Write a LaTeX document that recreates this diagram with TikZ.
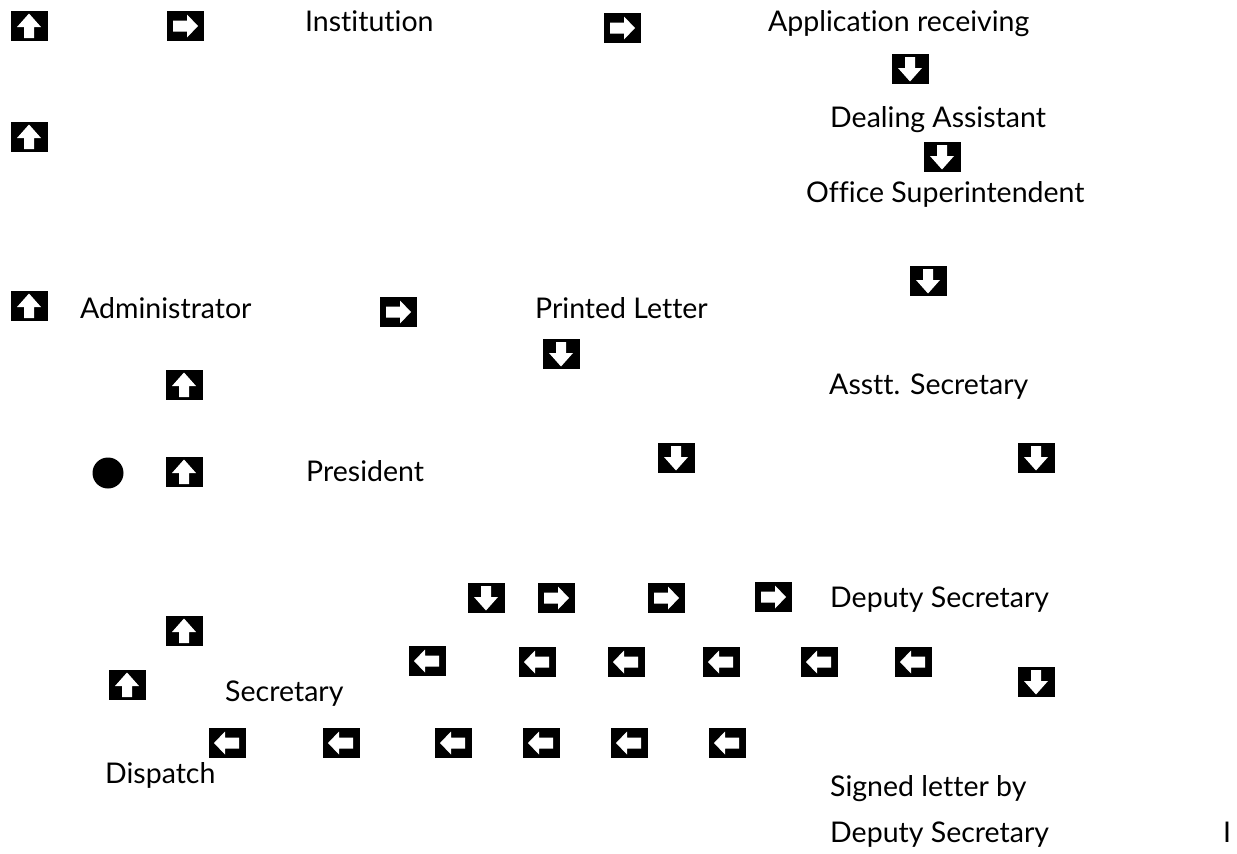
\documentclass[tikz,border=0pt]{standalone}
\usepackage{fontspec}
\setmainfont{Lato}[Ligatures={NoCommon}]
\begin{document}
\begin{tikzpicture}[x=1pt,y=-1pt,
  icon/.style={rectangle,fill=black,inner sep=0pt,minimum width=37pt,minimum height=30pt},
  righticon/.style={icon,path picture={\fill[white,shift={(path picture bounding box.center)}]
     (-12,-5.5) -- (2,-5.5) -- (2,-11.5) -- (13,0) -- (2,11.5) -- (2,5.5) -- (-12,5.5) -- cycle;}},
  lefticon/.style={icon,path picture={\fill[white,shift={(path picture bounding box.center)}]
     (12,-5.5) -- (-2,-5.5) -- (-2,-11.5) -- (-13,0) -- (-2,11.5) -- (-2,5.5) -- (12,5.5) -- cycle;}},
  upicon/.style={icon,path picture={\fill[white,shift={(path picture bounding box.center)}]
     (-5,12) -- (-5,1) -- (-12,1) -- (0,-12.5) -- (12,1) -- (5,1) -- (5,12) -- cycle;}},
  downicon/.style={icon,path picture={\fill[white,shift={(path picture bounding box.center)}]
     (-5,-12) -- (-5,-1) -- (-12,-1) -- (0,12.5) -- (12,-1) -- (5,-1) -- (5,-12) -- cycle;}},
  lbl/.style={anchor=base west,inner sep=0pt,font=\fontsize{28.5}{32}\selectfont},
  dot/.style={circle,fill=black,inner sep=0pt,minimum size=31pt}
]
\fill[white] (0,0) rectangle (1237,854);
\useasboundingbox (0,0) rectangle (1237,854);
% labels
\node[lbl] (inst) at (305,31) {Institution};
\node[lbl] (appl) at (768,31) {Application receiving};
\node[lbl] (deal) at (830,127) {Dealing Assistant};
\node[lbl] (offs) at (806,202) {Office Superintendent};
\node[lbl] (admn) at (80,318) {Administrator};
\node[lbl] (prnt) at (535,318) {Printed Letter};
\node[lbl] (asst) at (829,394) {Asstt. Secretary};
\node[lbl] (pres) at (306,481) {President};
\node[lbl] (deps) at (830,607) {Deputy Secretary};
\node[lbl] (secr) at (225,701) {Secretary};
\node[lbl] (disp) at (105,783) {Dispatch};
\node[lbl] (sign) at (830,796) {Signed letter by};
\node[lbl] (depb) at (830,842) {Deputy Secretary};
\node[lbl] (iota) at (1223,842) {I};
% icons
\node[upicon] (u1) at (29,26) {};
\node[righticon] (r1) at (185,26) {};
\node[righticon] (r2) at (622,28) {};
\node[downicon] (d1) at (910,69) {};
\node[upicon] (u2) at (29,137) {};
\node[downicon] (d2) at (942,157) {};
\node[downicon] (d3) at (928,281) {};
\node[upicon] (u3) at (29,306) {};
\node[righticon] (r3) at (398,312) {};
\node[downicon] (d4) at (561,354) {};
\node[upicon] (u4) at (184,385) {};
\node[downicon] (d5) at (676,458) {};
\node[downicon] (d6) at (1036,458) {};
\node[dot] (bul) at (108,473) {};
\node[upicon] (u5) at (184,472) {};
\node[downicon] (d7) at (486,598) {};
\node[righticon] (r4) at (556,598) {};
\node[righticon] (r5) at (666,598) {};
\node[righticon] (r6) at (773,597) {};
\node[upicon] (u6) at (184,631) {};
\node[lefticon] (l1) at (427,661) {};
\node[lefticon] (l2) at (537,662) {};
\node[lefticon] (l3) at (626,662) {};
\node[lefticon] (l4) at (721,662) {};
\node[lefticon] (l5) at (819,662) {};
\node[lefticon] (l6) at (913,662) {};
\node[downicon] (d8) at (1036,682) {};
\node[upicon] (u7) at (127,685) {};
\node[lefticon] (m1) at (227,743) {};
\node[lefticon] (m2) at (341,743) {};
\node[lefticon] (m3) at (453,743) {};
\node[lefticon] (m4) at (541,743) {};
\node[lefticon] (m5) at (629,743) {};
\node[lefticon] (m6) at (727,743) {};
\end{tikzpicture}
\end{document}
